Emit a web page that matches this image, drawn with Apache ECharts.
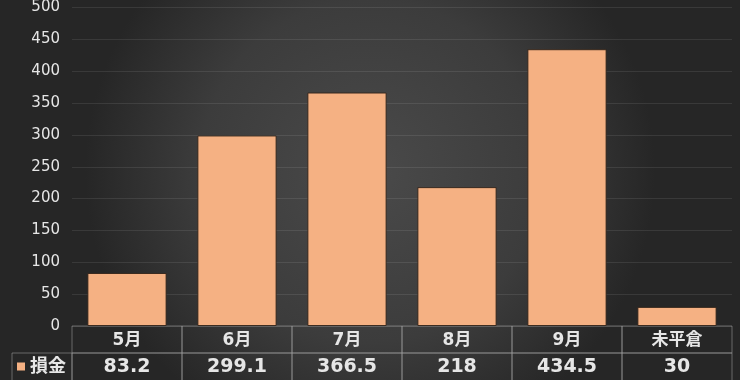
<!DOCTYPE html>
<html><head><meta charset="utf-8">
<script src="https://cdn.jsdelivr.net/npm/echarts@6/dist/echarts.min.js"></script>
<style>html,body{margin:0;padding:0;background:#333;}#c{width:740px;height:380px;}</style>
</head><body><div id="c"></div>
<script>
var categories = ['5月', '6月', '7月', '8月', '9月', '未平倉'];
var values = [83.2, 299.1, 366.5, 218, 434.5, 30];
var valueLabels = ['83.2', '299.1', '366.5', '218', '434.5', '30'];
var seriesName = '損金';
var yTicks = [0, 50, 100, 150, 200, 250, 300, 350, 400, 450, 500];

var barColor = '#F5B183';
var lineColor = 'rgba(160,160,160,0.55)';
var textColor = '#e6e6e6';
var fontFam = '"DejaVu Sans", "Noto Sans CJK JP", sans-serif';

var tableData = [];
categories.forEach(function (c, i) { tableData.push([i, 0]); tableData.push([i, 1]); });

var chart = echarts.init(document.getElementById('c'));
chart.setOption({
  backgroundColor: {
    type: 'radial', x: 0.5, y: 0.45, r: 0.75,
    colorStops: [{offset: 0, color: '#4a4a4a'}, {offset: 0.6, color: '#3c3c3c'}, {offset: 1, color: '#262626'}]
  },
  animation: false,
  grid: [
    {left: 72, right: 8, top: 6, bottom: 54},
    {left: 72, right: 8, top: 326, height: 54}
  ],
  xAxis: [
    {type: 'category', gridIndex: 0, data: categories, axisLine: {show: false}, axisTick: {show: false}, axisLabel: {show: false}},
    {type: 'category', gridIndex: 1, data: categories, show: false}
  ],
  yAxis: [
    {type: 'value', gridIndex: 0, min: yTicks[0], max: yTicks[yTicks.length - 1], interval: yTicks[1] - yTicks[0],
     axisLine: {show: false}, axisTick: {show: false},
     axisLabel: {color: textColor, fontSize: 15, fontFamily: fontFam, margin: 12},
     splitLine: {lineStyle: {color: 'rgba(255,255,255,0.09)', width: 1}}},
    {type: 'category', gridIndex: 1, data: ['head', 'val'], inverse: true, show: false}
  ],
  series: [
    {type: 'bar', name: seriesName, xAxisIndex: 0, yAxisIndex: 0, data: values, barWidth: '72%',
     itemStyle: {color: barColor, borderColor: 'rgba(50,35,25,0.9)', borderWidth: 1}},
    {type: 'custom', xAxisIndex: 1, yAxisIndex: 1, data: tableData, silent: true,
     renderItem: function (params, api) {
       var ci = api.value(0), row = api.value(1);
       var c = api.coord([ci, row]);
       var s = api.size([1, 1]);
       var w = s[0], h = s[1];
       var x0 = c[0] - w / 2, y0 = c[1] - h / 2;
       var txt = row === 0 ? categories[ci] : valueLabels[ci];
       var children = [
         {type: 'rect', shape: {x: x0, y: y0, width: w, height: h + (row === 1 ? 6 : 0)},
          style: {fill: 'none', stroke: lineColor, lineWidth: 1}},
         {type: 'text', style: {text: txt, x: c[0], y: c[1] + 1, textAlign: 'center', textVerticalAlign: 'middle',
           fill: textColor, fontSize: row === 0 ? 17 : 19, fontWeight: 'bold', fontFamily: fontFam}}
       ];
       if (row === 1 && ci === 0) {
         children.push({type: 'rect', shape: {x: x0 - 60, y: y0, width: 60, height: h + 6},
           style: {fill: 'none', stroke: lineColor, lineWidth: 1}});
         children.push({type: 'rect', shape: {x: x0 - 55, y: c[1] - 4, width: 8, height: 8},
           style: {fill: barColor}});
         children.push({type: 'text', style: {text: seriesName, x: x0 - 42, y: c[1] + 1, textAlign: 'left', textVerticalAlign: 'middle',
           fill: textColor, fontSize: 18, fontWeight: 'bold', fontFamily: fontFam}});
       }
       return {type: 'group', children: children};
     }}
  ]
});
</script></body></html>
